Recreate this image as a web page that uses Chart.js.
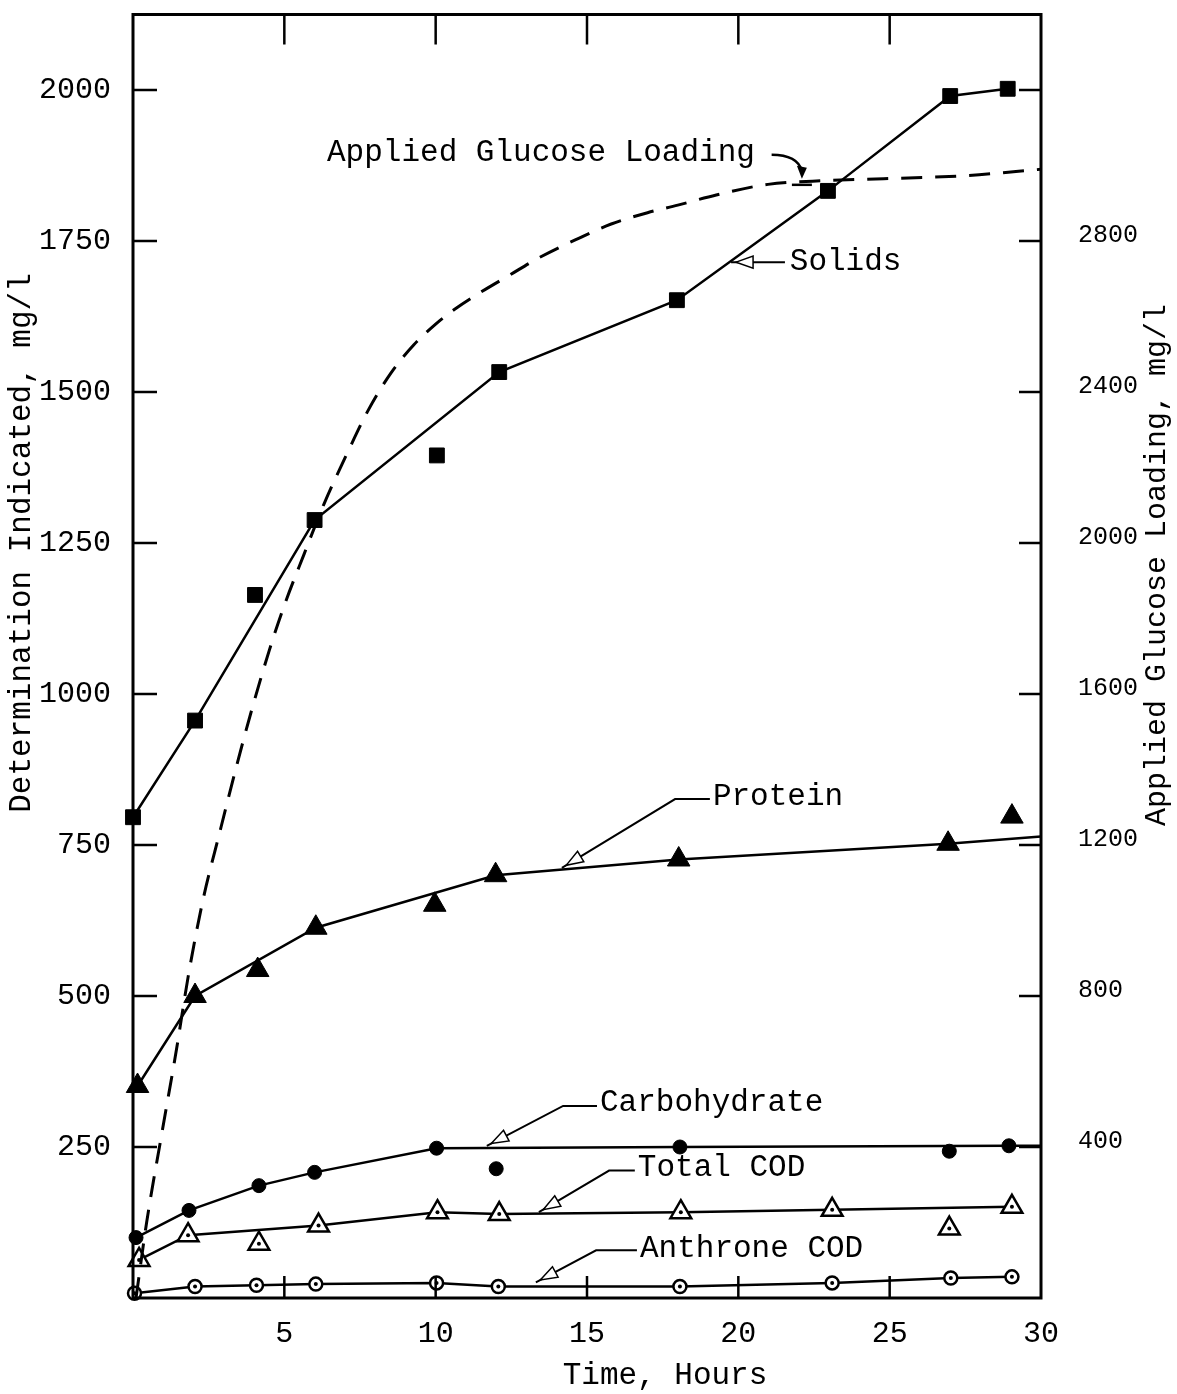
<!DOCTYPE html>
<html>
<head>
<meta charset="utf-8">
<script src="https://cdn.jsdelivr.net/npm/chart.js@4.4.1/dist/chart.umd.min.js"></script>
<style>
  html, body { margin: 0; padding: 0; background: #fff; }
</style>
</head>
<body>
<canvas id="chart" width="1177" height="1394"></canvas>
<script>
// values: time in hours, determinations in mg/l
var FONT = "'Liberation Mono', 'DejaVu Sans Mono', monospace";

var solidsX = [0, 2.05, 6.0, 12.1, 17.97, 22.96, 27.0, 28.9];
var solidsY = [796, 956, 1288, 1533, 1652, 1833, 1990, 2002];
var solidsOffX = [4.03, 10.04];
var solidsOffY = [1164, 1395];

var proteinX = [0.15, 2.05, 6.04, 11.98, 18.03, 26.93, 30];
var proteinY = [351, 500, 613, 700, 726, 752, 764];
var proteinOffX = [4.12, 9.97, 29.04];
var proteinOffY = [543, 651, 797];

var carboX = [0.1, 1.85, 4.16, 6.0, 10.03, 18.07, 28.94, 30];
var carboY = [100, 145, 186, 208, 248, 250, 252, 252];
var carboOffX = [12.0, 26.97];
var carboOffY = [214, 243];

var codX = [0.2, 1.82, 6.13, 10.06, 12.1, 18.1, 23.1, 29.04];
var codY = [63, 104, 120, 142, 139, 142, 146, 151];
var codOffX = [4.16, 26.97];
var codOffY = [90, 115];

var anthroneX = [0.05, 2.05, 4.08, 6.04, 10.03, 12.07, 18.07, 23.1, 27.02, 29.04];
var anthroneY = [8, 19, 21, 23, 25, 19, 19, 25, 33, 35];

// applied glucose loading, right axis
var glucoseX = [0.1, 0.45, 0.95, 1.44, 1.82, 2.3, 2.87, 3.44, 3.93, 4.5, 5.0, 5.65, 6.32, 7.09, 7.76, 8.52, 9.28, 10.0, 10.64, 11.4, 12.45, 13.4, 14.67, 15.8, 17.0, 18.0, 19.27, 20.98, 22.9, 24.8, 27.5, 30];
var glucoseY = [0, 200, 435, 660, 850, 1050, 1235, 1415, 1560, 1715, 1835, 1970, 2105, 2240, 2350, 2450, 2525, 2580, 2620, 2660, 2710, 2755, 2805, 2845, 2875, 2895, 2922, 2950, 2960, 2965, 2973, 2990];

var xTicks = [5, 10, 15, 20, 25, 30];
var leftTicks = [250, 500, 750, 1000, 1250, 1500, 1750, 2000];
var rightTicks = [400, 800, 1200, 1600, 2000, 2400, 2800];

function pts(xs, ys) {
  return xs.map(function (x, i) { return { x: x, y: ys[i] }; });
}
function tailless(r) {
  return function (c) { return c.raw && c.raw.x >= 30 ? 0 : r; };
}

// text labels with leader lines, in data units (hours, left axis mg/l)
var notes = [
  { text: "Solids", at: [21.7, 1715], path: [[21.54, 1715], [19.76, 1715]] },
  { text: "Protein", at: [19.16, 829], path: [[19.06, 826], [17.91, 826], [14.17, 712]] },
  { text: "Carbohydrate", at: [15.43, 323], path: [[15.33, 318], [14.21, 318], [11.69, 252]] },
  { text: "Total COD", at: [16.68, 216], path: [[16.58, 211], [15.73, 211], [13.41, 142]] },
  { text: "Anthrone COD", at: [16.75, 82], path: [[16.65, 79], [15.3, 79], [13.31, 26]] }
];

var frame = {
  id: "frame",
  afterDatasetsDraw: function (chart) {
    var ctx = chart.ctx, a = chart.chartArea;
    var x = chart.scales.x, y = chart.scales.y, y2 = chart.scales.y2;
    ctx.save();
    ctx.strokeStyle = "#000";
    ctx.lineWidth = 3;
    ctx.strokeRect(a.left, a.top, a.right - a.left, a.bottom - a.top);
    ctx.lineWidth = 2.5;
    ctx.beginPath();
    xTicks.forEach(function (v) {
      if (v >= 30) return;
      var px = x.getPixelForValue(v);
      ctx.moveTo(px, a.bottom); ctx.lineTo(px, a.bottom - 22);
      ctx.moveTo(px, a.top); ctx.lineTo(px, a.top + 30);
    });
    leftTicks.forEach(function (v) {
      var py = y.getPixelForValue(v);
      ctx.moveTo(a.left, py); ctx.lineTo(a.left + 24, py);
    });
    rightTicks.concat([3200]).forEach(function (v) {
      var py = y2.getPixelForValue(v);
      ctx.moveTo(a.right, py); ctx.lineTo(a.right - 22, py);
    });
    ctx.stroke();

    // dots inside open markers
    chart.data.datasets.forEach(function (ds, i) {
      if (!ds.dot) return;
      chart.getDatasetMeta(i).data.forEach(function (el) {
        ctx.beginPath();
        ctx.arc(el.x, el.y, 2, 0, Math.PI * 2);
        ctx.fillStyle = "#000";
        ctx.fill();
      });
    });

    // leader notes
    ctx.font = "31px " + FONT;
    ctx.textBaseline = "middle";
    ctx.textAlign = "left";
    ctx.fillStyle = "#000";
    notes.forEach(function (n) {
      ctx.fillText(n.text, x.getPixelForValue(n.at[0]), y.getPixelForValue(n.at[1]));
      var p = n.path.map(function (q) { return [x.getPixelForValue(q[0]), y.getPixelForValue(q[1])]; });
      ctx.lineWidth = 2;
      ctx.beginPath();
      ctx.moveTo(p[0][0], p[0][1]);
      for (var k = 1; k < p.length; k++) ctx.lineTo(p[k][0], p[k][1]);
      ctx.stroke();
      var t = p[p.length - 1], s = p[p.length - 2];
      var dx = t[0] - s[0], dy = t[1] - s[1], len = Math.sqrt(dx * dx + dy * dy);
      dx /= len; dy /= len;
      var tipX = t[0] - dx * 5, tipY = t[1] - dy * 5;
      var bx = tipX - dx * 17, by = tipY - dy * 17;
      ctx.beginPath();
      ctx.moveTo(tipX, tipY);
      ctx.lineTo(bx - dy * 6, by + dx * 6);
      ctx.lineTo(bx + dy * 6, by - dx * 6);
      ctx.closePath();
      ctx.fillStyle = "#fff";
      ctx.fill();
      ctx.lineWidth = 1.5;
      ctx.stroke();
      ctx.fillStyle = "#000";
    });

    // glucose label with curved arrow
    ctx.fillText("Applied Glucose Loading", x.getPixelForValue(6.41), y.getPixelForValue(1896));
    var c0 = [x.getPixelForValue(21.1), y.getPixelForValue(1893)];
    var c1 = [x.getPixelForValue(21.95), y.getPixelForValue(1893)];
    var c2 = [x.getPixelForValue(22.1), y.getPixelForValue(1853)];
    ctx.lineWidth = 2.5;
    ctx.beginPath();
    ctx.moveTo(c0[0], c0[1]);
    ctx.quadraticCurveTo(c1[0], c1[1], c2[0], c2[1] - 8);
    ctx.stroke();
    ctx.beginPath();
    ctx.moveTo(c2[0], c2[1]);
    ctx.lineTo(c2[0] - 5, c2[1] - 13);
    ctx.lineTo(c2[0] + 5, c2[1] - 11);
    ctx.closePath();
    ctx.fill();
    var barY = y.getPixelForValue(1843);
    ctx.beginPath();
    ctx.moveTo(c2[0] - 10, barY); ctx.lineTo(c2[0] + 10, barY);
    ctx.stroke();

    // axis titles
    ctx.textAlign = "center";
    ctx.fillText("Time, Hours", 665, 1376);
    ctx.save();
    ctx.translate(22, 543);
    ctx.rotate(-Math.PI / 2);
    ctx.fillText("Determination Indicated, mg/l", 0, 0);
    ctx.restore();
    ctx.save();
    ctx.font = "30px " + FONT;
    ctx.translate(1157, 565);
    ctx.rotate(-Math.PI / 2);
    ctx.fillText("Applied Glucose Loading, mg/l", 0, 0);
    ctx.restore();
    ctx.restore();
  }
};

function markerSet(label, data, style, r, fill, extra) {
  var ds = {
    label: label,
    data: data,
    showLine: false,
    pointStyle: style,
    pointRadius: r,
    pointBackgroundColor: fill,
    pointBorderColor: "#000",
    pointBorderWidth: fill === "#fff" ? 2.5 : 1,
    borderColor: "#000",
    borderWidth: 2.5,
    clip: false
  };
  if (extra) Object.keys(extra).forEach(function (k) { ds[k] = extra[k]; });
  return ds;
}

function noPad(s) {
  s.paddingTop = 0; s.paddingBottom = 0; s.paddingLeft = 0; s.paddingRight = 0;
}

new Chart(document.getElementById("chart"), {
  type: "scatter",
  data: {
    datasets: [
      {
        label: "Applied Glucose Loading",
        data: pts(glucoseX, glucoseY),
        yAxisID: "y2",
        showLine: true,
        borderColor: "#000",
        borderWidth: 3,
        borderDash: [21, 13],
        pointRadius: 0,
        tension: 0.4,
        cubicInterpolationMode: "monotone"
      },
      markerSet("Solids", pts(solidsX, solidsY), "rect", 10.5, "#000", { showLine: true }),
      markerSet("Solids", pts(solidsOffX, solidsOffY), "rect", 10.5, "#000"),
      markerSet("Protein", pts(proteinX, proteinY), "triangle", 13, "#000", { showLine: true, pointRadius: tailless(13) }),
      markerSet("Protein", pts(proteinOffX, proteinOffY), "triangle", 13, "#000"),
      markerSet("Carbohydrate", pts(carboX, carboY), "circle", 7, "#000", { showLine: true, pointRadius: tailless(7) }),
      markerSet("Carbohydrate", pts(carboOffX, carboOffY), "circle", 7, "#000"),
      markerSet("Total COD", pts(codX, codY), "triangle", 12, "#fff", { showLine: true, dot: true }),
      markerSet("Total COD", pts(codOffX, codOffY), "triangle", 12, "#fff", { dot: true }),
      markerSet("Anthrone COD", pts(anthroneX, anthroneY), "circle", 6.5, "#fff", { showLine: true, dot: true })
    ]
  },
  options: {
    responsive: false,
    animation: false,
    events: [],
    layout: { padding: { top: 10, left: 0, right: 0, bottom: 0 } },
    plugins: { legend: { display: false }, tooltip: { enabled: false } },
    scales: {
      x: {
        type: "linear", position: "bottom", min: 0, max: 30,
        grid: { display: false, drawTicks: false },
        border: { display: false },
        ticks: {
          stepSize: 5, autoSkip: false, maxRotation: 0, padding: 18, color: "#000",
          font: { family: FONT, size: 30 },
          callback: function (v) { return xTicks.indexOf(v) >= 0 ? String(v) : ""; }
        },
        afterFit: function (s) { s.height = 96; noPad(s); }
      },
      y: {
        type: "linear", position: "left", min: 0, max: 2125,
        grid: { display: false, drawTicks: false },
        border: { display: false },
        ticks: {
          stepSize: 250, autoSkip: false, padding: 22, color: "#000",
          font: { family: FONT, size: 30 },
          callback: function (v) { return leftTicks.indexOf(v) >= 0 ? String(v) : ""; }
        },
        afterFit: function (s) { s.width = 133; noPad(s); }
      },
      y2: {
        type: "linear", position: "right", min: 0, max: 3400,
        grid: { display: false, drawTicks: false },
        border: { display: false },
        ticks: {
          stepSize: 400, autoSkip: false, padding: 37, labelOffset: -6, color: "#000",
          font: { family: FONT, size: 25 },
          callback: function (v) { return rightTicks.indexOf(v) >= 0 ? String(v) : ""; }
        },
        afterFit: function (s) { s.width = 136; noPad(s); }
      }
    }
  },
  plugins: [frame]
});
</script>
</body>
</html>
